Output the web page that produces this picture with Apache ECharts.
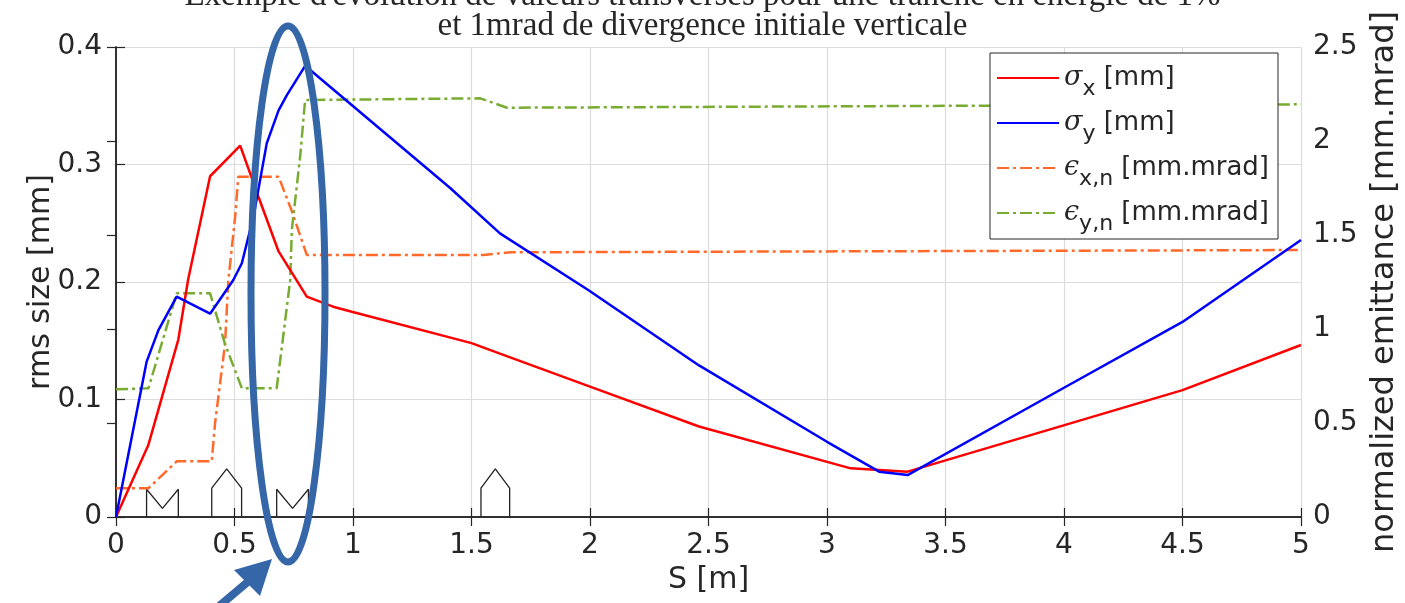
<!DOCTYPE html>
<html>
<head>
<meta charset="utf-8">
<script src="https://cdn.jsdelivr.net/npm/echarts@6/dist/echarts.min.js"></script>
<style>
  html, body { margin: 0; padding: 0; background: #fff; }
  #chart { width: 1405px; height: 603px; }
</style>
</head>
<body>
<div id="chart"></div>
<script>
const $ = (id) => document.getElementById(id);

// sigma_x, rms size [mm] (left axis)
const sxS = [0, 0.136, 0.263, 0.304, 0.397, 0.524, 0.601, 0.686, 0.805, 0.916, 0.995, 1.5, 1.62, 2.0, 2.46, 3.1, 3.34, 4.5, 5.0];
const sxV = [0, 0.061, 0.151, 0.2017, 0.29, 0.316, 0.2726, 0.226, 0.1875, 0.179, 0.1747, 0.148, 0.139, 0.111, 0.077, 0.0414, 0.0386, 0.108, 0.1464];

// sigma_y, rms size [mm] (left axis)
const syS = [0, 0.129, 0.179, 0.256, 0.397, 0.495, 0.531, 0.58, 0.636, 0.686, 0.721, 0.798, 1.41, 1.62, 1.994, 2.46, 3.0, 3.22, 3.34, 4.0, 4.5, 5.0];
const syV = [0, 0.132, 0.159, 0.1875, 0.173, 0.2017, 0.216, 0.2556, 0.318, 0.346, 0.359, 0.384, 0.28, 0.2414, 0.193, 0.129, 0.064, 0.0386, 0.0357, 0.11, 0.166, 0.2357];

// eps_x,n normalized emittance [mm.mrad] (right axis)
const exS = [0, 0.137, 0.256, 0.404, 0.418, 0.46, 0.474, 0.503, 0.516, 0.686, 0.741, 0.805, 1.55, 1.665, 5.0];
const exV = [0.153, 0.153, 0.296, 0.296, 0.5, 0.92, 1.26, 1.6, 1.81, 1.81, 1.63, 1.394, 1.394, 1.408, 1.42];

// eps_y,n normalized emittance [mm.mrad] (right axis)
const eyS = [0, 0.137, 0.256, 0.397, 0.46, 0.531, 0.678, 0.70, 0.735, 0.742, 0.777, 0.798, 1.537, 1.65, 5.0];
const eyV = [0.679, 0.685, 1.19, 1.19, 0.92, 0.685, 0.685, 0.906, 1.26, 1.53, 1.917, 2.218, 2.227, 2.177, 2.195];

// beamline elements drawn along the bottom
const elemStart = [0.129, 0.404, 0.678, 1.540];
const elemEnd = [0.263, 0.530, 0.812, 1.661];
const elemKind = ["quad", "dipole", "quad", "dipole"];
const quadTop = 0.0236, quadNotch = 0.0074, dipShoulder = 0.0246, dipApex = 0.041;

const xTicks = { min: 0, max: 5, interval: 0.5 };
const leftTicks = { min: 0, max: 0.4, interval: 0.1 };
const rightTicks = { min: 0, max: 2.5, interval: 0.5 };

const legendLabels = {
  sx: "{g|σ}{sub|x}{t| [mm]}",
  sy: "{g|σ}{sub|y}{t| [mm]}",
  ex: "{g|ϵ}{sub|x,n}{t| [mm.mrad]}",
  ey: "{g|ϵ}{sub|y,n}{t| [mm.mrad]}",
};

const zip = (xs, ys) => xs.map((x, i) => [x, ys[i]]);

function elementShape(i) {
  const a = elemStart[i], b = elemEnd[i], m = (a + b) / 2;
  if (elemKind[i] === "quad") return [[a, 0], [a, quadTop], [m, quadNotch], [b, quadTop], [b, 0]];
  return [[a, 0], [a, dipShoulder], [m, dipApex], [b, dipShoulder], [b, 0]];
}

const SANS = "'DejaVu Sans', sans-serif";
const INK = "#262626";
const dashDot = [12, 4, 3, 4];

const chart = echarts.init($("chart"));

const series = [
  { name: "sx", type: "line", data: zip(sxS, sxV), yAxisIndex: 0, symbol: "none", z: 4,
    lineStyle: { color: "#ff0000", width: 2.5 }, itemStyle: { color: "#ff0000" } },
  { name: "sy", type: "line", data: zip(syS, syV), yAxisIndex: 0, symbol: "none", z: 4,
    lineStyle: { color: "#0000ff", width: 2.5 }, itemStyle: { color: "#0000ff" } },
  { name: "ex", type: "line", data: zip(exS, exV), yAxisIndex: 1, symbol: "none", z: 3,
    lineStyle: { color: "#ff6a2b", width: 2.5, type: dashDot }, itemStyle: { color: "#ff6a2b" } },
  { name: "ey", type: "line", data: zip(eyS, eyV), yAxisIndex: 1, symbol: "none", z: 3,
    lineStyle: { color: "#77ac30", width: 2.5, type: dashDot }, itemStyle: { color: "#77ac30" } },
];

elemStart.forEach((_, i) => {
  series.push({
    name: "elem" + i, type: "line", data: elementShape(i), yAxisIndex: 0, symbol: "none", z: 2,
    silent: true, lineStyle: { color: "#222", width: 1.3 },
  });
});

chart.setOption({
  animation: false,
  backgroundColor: "#fff",
  title: {
    text: "Exemple d'évolution de valeurs transverses pour une tranche en énergie de 1%\net 1mrad de divergence initiale verticale",
    left: "center",
    top: -19,
    padding: 0,
    textStyle: { fontFamily: "'Liberation Serif', serif", fontSize: 33, fontWeight: "normal", color: INK, lineHeight: 30 },
  },
  grid: { left: 116, right: 104, top: 47, bottom: 86, outerBoundsMode: "none", containLabel: false },
  legend: {
    data: ["sx", "sy", "ex", "ey"],
    orient: "vertical",
    left: 990,
    top: 53,
    itemWidth: 62,
    itemHeight: 14,
    itemGap: 1,
    padding: [3, 9, 4, 6],
    backgroundColor: "#fff",
    borderColor: INK,
    borderWidth: 1,
    borderRadius: 0,
    itemStyle: { opacity: 0 },
    formatter: (name) => legendLabels[name],
    textStyle: {
      color: INK,
      rich: {
        g: { fontFamily: "'DejaVu Serif', serif", fontStyle: "italic", fontSize: 27, color: INK, verticalAlign: "middle" },
        sub: { fontFamily: SANS, fontSize: 22, color: INK, verticalAlign: "middle", lineHeight: 22, padding: [22, 0, 0, 0] },
        t: { fontFamily: SANS, fontSize: 26, color: INK, verticalAlign: "middle" },
      },
    },
  },
  xAxis: [
    {
      type: "value", ...xTicks, position: "bottom",
      name: "S [m]", nameLocation: "middle", nameGap: 48, nameMoveOverlap: false,
      nameTextStyle: { fontFamily: SANS, fontSize: 30, color: INK },
      axisLine: { show: true, lineStyle: { color: INK, width: 1.5 } },
      axisTick: { show: true, inside: true, length: 9, lineStyle: { color: INK, width: 1.2 } },
      axisLabel: { fontFamily: SANS, fontSize: 28, color: INK, margin: 15 },
      splitLine: { show: true, lineStyle: { color: "#dcdcdc", width: 1.2 } },
    },
    {
      type: "value", ...xTicks, position: "top",
      axisLine: { show: true, lineStyle: { color: INK, width: 1.5 } },
      axisTick: { show: true, inside: true, length: 9, lineStyle: { color: INK, width: 1.2 } },
      axisLabel: { show: false },
      splitLine: { show: false },
    },
  ],
  yAxis: [
    {
      type: "value", ...leftTicks, position: "left",
      name: "rms size [mm]", nameLocation: "middle", nameGap: 60, nameRotate: 90, nameMoveOverlap: false,
      nameTextStyle: { fontFamily: SANS, fontSize: 30, color: INK },
      axisLine: { show: true, lineStyle: { color: INK, width: 1.5 } },
      axisTick: { show: true, inside: true, length: 9, lineStyle: { color: INK, width: 1.2 } },
      axisLabel: { fontFamily: SANS, fontSize: 28, color: INK, margin: 14 },
      splitLine: { show: true, lineStyle: { color: "#dcdcdc", width: 1.2 } },
    },
    {
      type: "value", ...rightTicks, position: "right",
      name: "normalized emittance [mm.mrad]", nameLocation: "middle", nameGap: 68, nameRotate: 90, nameMoveOverlap: false,
      nameTextStyle: { fontFamily: SANS, fontSize: 32, color: INK },
      axisLine: { show: true, lineStyle: { color: INK, width: 1.5 } },
      axisTick: { show: true, inside: true, length: 9, lineStyle: { color: INK, width: 1.2 } },
      axisLabel: { fontFamily: SANS, fontSize: 28, color: INK, margin: 12 },
      splitLine: { show: false },
    },
  ],
  series,
  // hand-drawn annotation: ellipse around the crossing region and the arrow pointing at it
  graphic: [
    { type: "ellipse", z: 100, shape: { cx: 288, cy: 294, rx: 37, ry: 268 },
      style: { fill: null, stroke: "#3466a8", lineWidth: 7 } },
    { type: "line", z: 100, shape: { x1: 205, y1: 618, x2: 250, y2: 580 },
      style: { stroke: "#3466a8", lineWidth: 8 } },
    { type: "polygon", z: 100, shape: { points: [[272, 559], [234, 570], [260, 596]] },
      style: { fill: "#3466a8" } },
  ],
});
</script>
</body>
</html>
